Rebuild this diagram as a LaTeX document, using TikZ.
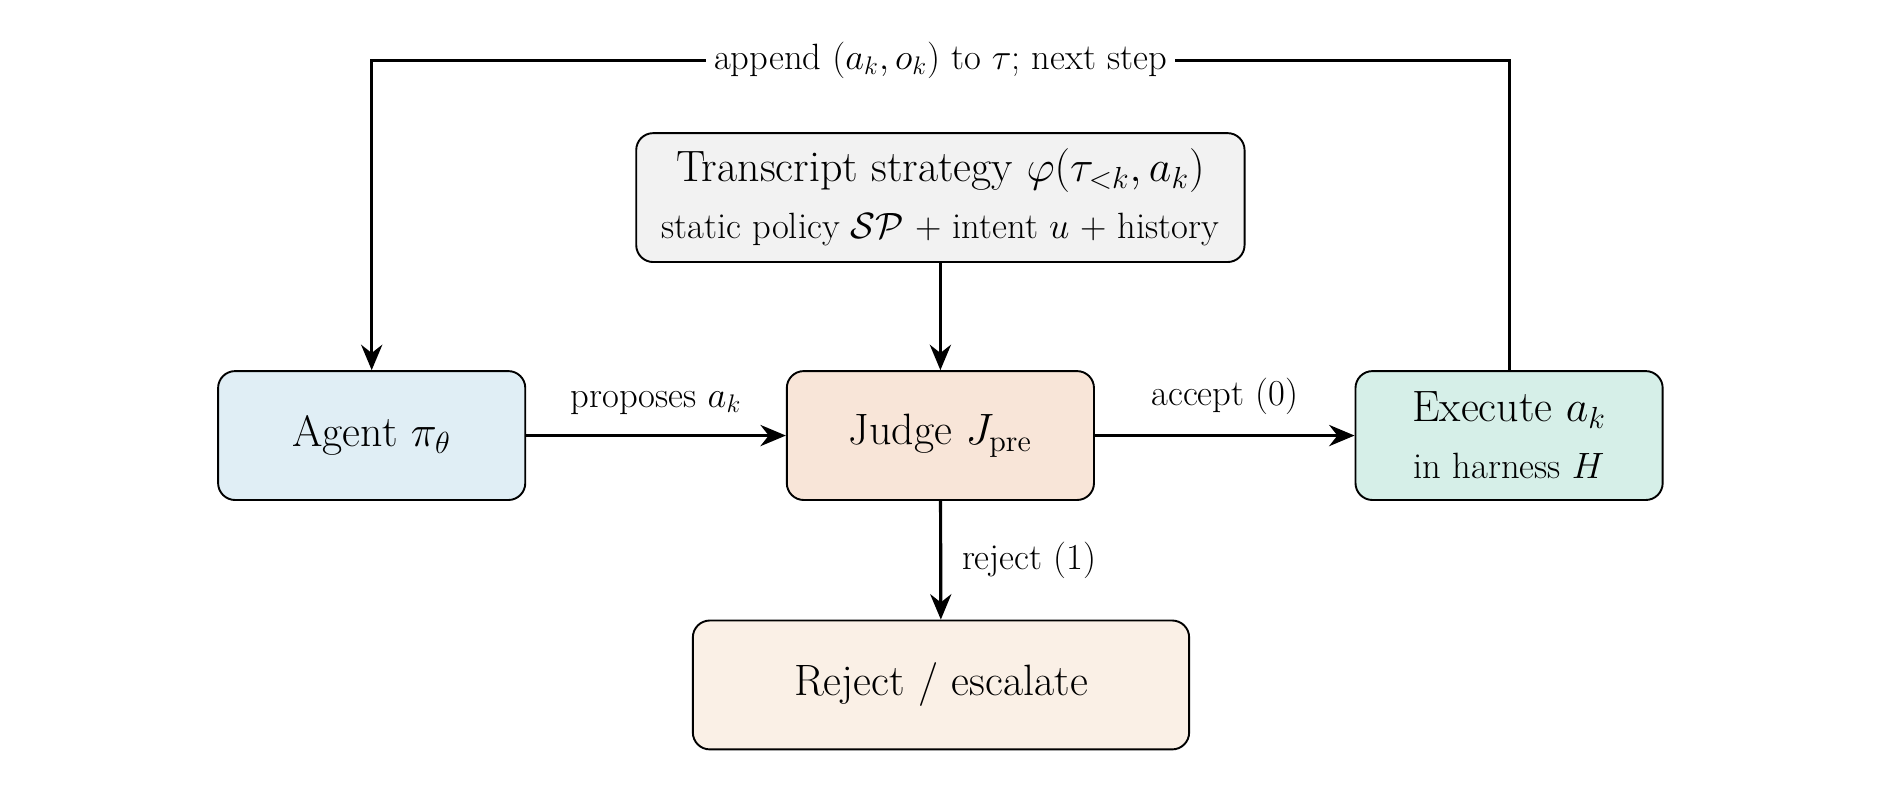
\documentclass[tikz,border=0pt]{standalone}
\usepackage{amsmath}
\usetikzlibrary{arrows.meta}
\definecolor{agentblue}{HTML}{E0EEF5}
\definecolor{judgeorange}{HTML}{F8E5D8}
\definecolor{execgreen}{HTML}{D6EFE8}
\definecolor{transgray}{HTML}{F2F2F2}
\definecolor{rejectcream}{HTML}{FAF0E6}
\tikzset{
  box/.style={draw, rounded corners=8pt, line width=0.9pt, align=center,
    minimum width=5.1cm, minimum height=2.14cm, font=\huge},
  flow/.style={-{Stealth[length=12pt,width=10pt]}, line width=1.5pt},
  lbl/.style={font=\LARGE}
}
\begin{document}
\begin{tikzpicture}[x=0.02cm, y=-0.02cm]
	\useasboundingbox (0,0) rectangle (1567,651);

	\node[box, fill=agentblue] (agent) at (308.5, 361.5) {Agent $\pi_\theta$};
	\node[box, fill=judgeorange] (judge) at (780.5, 361.5) {Judge $J_{\text{pre}}$};
	\node[box, fill=execgreen] (exec) at (1252.5, 361.5) {Execute $a_k$\\[2pt] {\LARGE in harness $H$}};
	\node[box, fill=transgray, minimum width=10.1cm] (trans) at (780.5, 164)
	  {Transcript strategy $\varphi(\tau_{<k}, a_k)$\\[2pt] {\LARGE static policy $\mathcal{SP}$ + intent $u$ + history}};
	\node[box, fill=rejectcream, minimum width=8.24cm] (reject) at (781, 568.5) {Reject / escalate};

	\coordinate (topR) at (1252.5, 50);
	\coordinate (topL) at (308.5, 50);

	\draw[flow] (agent) -- node[lbl, above=6pt] {proposes $a_k$} (judge);
	\draw[flow] (judge) -- node[lbl, above=6pt] {accept (0)} (exec);
	\draw[flow] (trans) -- (judge);
	\draw[flow] (judge) -- node[lbl, right=6pt] {reject (1)} (reject);
	\draw[flow] (exec.north) -- (topR) -- node[lbl, fill=white, inner xsep=4pt] {append $(a_k, o_k)$ to $\tau$; next step} (topL) -- (agent.north);
\end{tikzpicture}
\end{document}
